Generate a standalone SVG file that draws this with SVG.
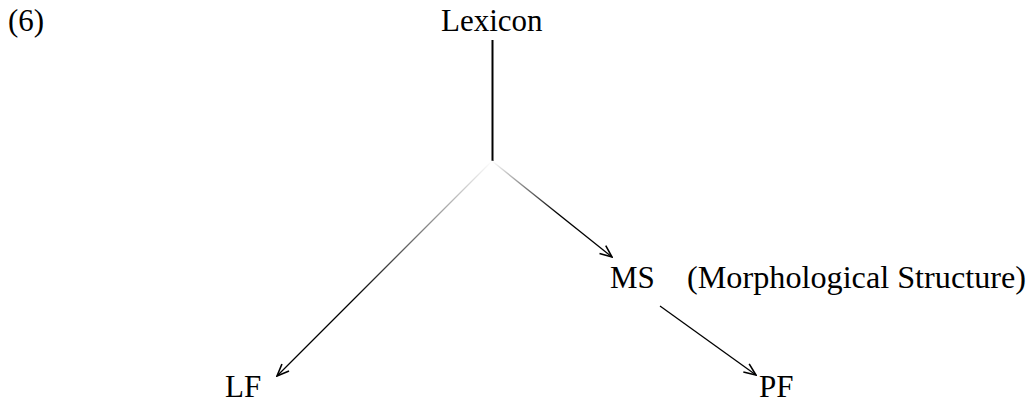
<svg xmlns="http://www.w3.org/2000/svg" width="1029" height="403" viewBox="0 0 1029 403">
  <style>
    text { font-family: "Liberation Serif", "Times New Roman", serif; font-size: 31px; fill: #000; }
    .edge { fill: none; stroke-width: 1.3; }
  </style>
  <defs>
    <marker id="arrow" viewBox="0 0 14 12" refX="13" refY="6" markerWidth="14" markerHeight="12" markerUnits="userSpaceOnUse" orient="auto">
      <path d="M1,1 L13,6 L1,11" fill="none" stroke="#000" stroke-width="1.6"/>
    </marker>
    <!-- branches fade in from the split point -->
    <linearGradient id="fadeLeft" gradientUnits="userSpaceOnUse" x1="492" y1="161" x2="277" y2="376">
      <stop offset="0" stop-color="#fff"/>
      <stop offset="0.65" stop-color="#000"/>
      <stop offset="1" stop-color="#000"/>
    </linearGradient>
    <linearGradient id="fadeRight" gradientUnits="userSpaceOnUse" x1="492" y1="161" x2="612" y2="257">
      <stop offset="0" stop-color="#fff"/>
      <stop offset="0.55" stop-color="#000"/>
      <stop offset="1" stop-color="#000"/>
    </linearGradient>
  </defs>

  <text x="8" y="31">(6)</text>

  <g id="connectors">
    <line x1="492.5" y1="40" x2="492.5" y2="161" stroke="#000" stroke-width="2"/>
    <line class="edge" x1="492" y1="161" x2="277" y2="376" stroke="url(#fadeLeft)" marker-end="url(#arrow)"/>
    <line class="edge" x1="492" y1="161" x2="612" y2="257" stroke="url(#fadeRight)" marker-end="url(#arrow)"/>
    <line class="edge" x1="660" y1="306" x2="756" y2="375" stroke="#000" marker-end="url(#arrow)"/>
  </g>

  <g id="lexicon"><text x="441" y="31">Lexicon</text></g>
  <g id="ms">
    <text x="610" y="288">MS</text>
    <text x="687" y="288" textLength="339" lengthAdjust="spacingAndGlyphs">(Morphological Structure)</text>
  </g>
  <g id="lf"><text x="225" y="397">LF</text></g>
  <g id="pf"><text x="759" y="397">PF</text></g>
</svg>
